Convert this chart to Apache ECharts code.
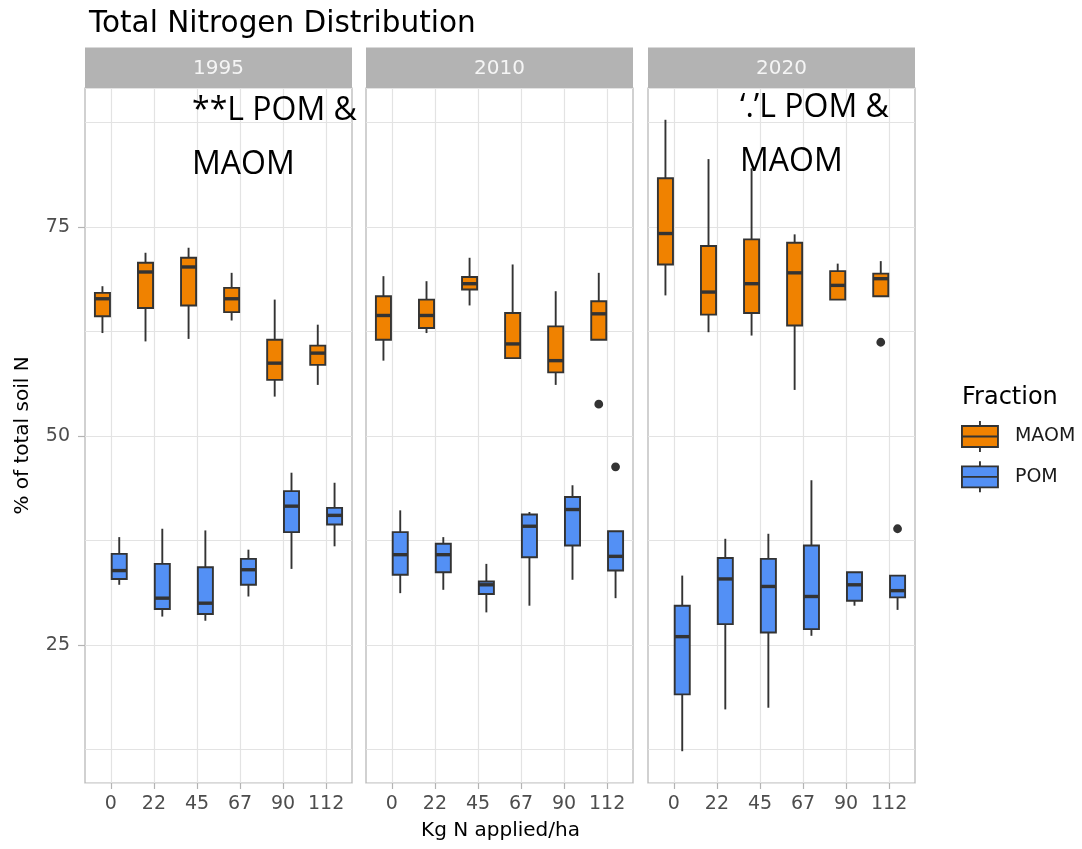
<!DOCTYPE html>
<html>
<head>
<meta charset="utf-8">
<script src="https://cdn.jsdelivr.net/npm/echarts@6/dist/echarts.min.js"></script>
<style>
html,body{margin:0;padding:0;background:#fff;}
#chart{width:1082px;height:849px;}
</style>
</head>
<body>
<div id="chart"></div>
<script>
// ---- data ----
const years = ['1995', '2010', '2020'];
const categories = ['0', '22', '45', '67', '90', '112'];
const fractions = ['MAOM', 'POM'];
// each row: [lower whisker, Q1, median, Q3, upper whisker]
const maom1995 = [
  [62.3, 64.3, 66.4, 67.1, 67.9],
  [61.3, 65.3, 69.6, 70.7, 71.9],
  [61.6, 65.6, 70.2, 71.3, 72.5],
  [63.8, 64.8, 66.4, 67.7, 69.5],
  [54.7, 56.7, 58.7, 61.5, 66.3],
  [56.1, 58.5, 59.9, 60.8, 63.3]
];
const pom1995 = [
  [32.2, 32.9, 33.9, 35.9, 37.9],
  [28.4, 29.3, 30.6, 34.7, 38.9],
  [27.9, 28.7, 30.0, 34.3, 38.7],
  [30.8, 32.2, 34.0, 35.3, 36.4],
  [34.1, 38.5, 41.6, 43.4, 45.6],
  [36.8, 39.4, 40.5, 41.4, 44.4]
];
const maom2010 = [
  [59.0, 61.5, 64.4, 66.7, 69.1],
  [62.3, 62.9, 64.4, 66.3, 68.5],
  [65.6, 67.5, 68.2, 69.0, 71.3],
  [59.3, 59.3, 61.0, 64.7, 70.5],
  [56.1, 57.6, 59.0, 63.1, 67.3],
  [61.5, 61.5, 64.6, 66.1, 69.5]
];
const pom2010 = [
  [31.2, 33.4, 35.8, 38.5, 41.1],
  [31.6, 33.7, 35.8, 37.1, 37.9],
  [28.9, 31.1, 32.2, 32.6, 34.7],
  [29.7, 35.5, 39.2, 40.6, 40.9],
  [32.8, 36.9, 41.2, 42.7, 44.1],
  [30.6, 33.9, 35.6, 38.6, 38.6]
];
const maom2020 = [
  [66.8, 70.5, 74.2, 80.8, 87.8],
  [62.4, 64.5, 67.2, 72.7, 83.1],
  [62.0, 64.7, 68.2, 73.5, 82.0],
  [55.5, 63.2, 69.5, 73.1, 74.1],
  [66.3, 66.3, 68.0, 69.7, 70.6],
  [66.7, 66.7, 68.8, 69.4, 70.9]
];
const pom2020 = [
  [12.3, 19.1, 26.0, 29.7, 33.3],
  [17.3, 27.5, 32.9, 35.4, 37.7],
  [17.5, 26.5, 32.0, 35.3, 38.3],
  [26.1, 26.9, 30.8, 36.9, 44.7],
  [29.7, 30.3, 32.2, 33.7, 33.7],
  [29.2, 30.7, 31.5, 33.3, 33.3]
];
// outliers: [category index, value]
const maomOutliers1995 = [];
const pomOutliers1995 = [];
const maomOutliers2010 = [[5, 53.8]];
const pomOutliers2010 = [[5, 46.3]];
const maomOutliers2020 = [[5, 61.2]];
const pomOutliers2020 = [[5, 38.9]];
const yTickValues = [25, 50, 75];

// ---- layout / style ----
const FONT = '"DejaVu Sans", sans-serif';
const COLORS = { MAOM: '#F08200', POM: '#5390F5' };
const DARK = '#333333';
const PANEL_LEFTS = [85, 366, 648];
const PANEL_W = 267;
const PANEL_TOP = 88;
const PANEL_BOTTOM = 66;
const STRIP_TOP = 47.5;
const Y_MIN = 8.5, Y_MAX = 91.6;

const boxData = [
  { MAOM: maom1995, POM: pom1995, oM: maomOutliers1995, oP: pomOutliers1995 },
  { MAOM: maom2010, POM: pom2010, oM: maomOutliers2010, oP: pomOutliers2010 },
  { MAOM: maom2020, POM: pom2020, oM: maomOutliers2020, oP: pomOutliers2020 }
];

function boxRender(dir, color) {
  return function (params, api) {
    const x = api.value(0);
    const band = api.size([1, 0])[0];
    const off = dir * band * 0.195;
    const w = band * 0.35;
    const pLow = api.coord([x, api.value(1)]);
    const pQ1 = api.coord([x, api.value(2)]);
    const pMed = api.coord([x, api.value(3)]);
    const pQ3 = api.coord([x, api.value(4)]);
    const pHigh = api.coord([x, api.value(5)]);
    const cx = pLow[0] + off;
    const lineStyle = { stroke: DARK, lineWidth: 1.9 };
    return {
      type: 'group',
      children: [
        { type: 'line', shape: { x1: cx, y1: pHigh[1], x2: cx, y2: pQ3[1] }, style: lineStyle },
        { type: 'line', shape: { x1: cx, y1: pQ1[1], x2: cx, y2: pLow[1] }, style: lineStyle },
        { type: 'rect', shape: { x: cx - w / 2, y: pQ3[1], width: w, height: pQ1[1] - pQ3[1] },
          style: { fill: color, stroke: DARK, lineWidth: 1.9 } },
        { type: 'line', shape: { x1: cx - w / 2, y1: pMed[1], x2: cx + w / 2, y2: pMed[1] },
          style: { stroke: DARK, lineWidth: 3.4 } }
      ]
    };
  };
}
function outlierRender(dir) {
  return function (params, api) {
    const band = api.size([1, 0])[0];
    const p = api.coord([api.value(0), api.value(1)]);
    return { type: 'circle', shape: { cx: p[0] + dir * band * 0.195, cy: p[1], r: 4.4 },
      style: { fill: DARK } };
  };
}

const grids = [], xAxes = [], yAxes = [], series = [], graphics = [];
years.forEach(function (yr, p) {
  grids.push({
    left: PANEL_LEFTS[p], width: PANEL_W, top: PANEL_TOP, bottom: PANEL_BOTTOM,
    containLabel: false, outerBoundsMode: 'none',
    show: true, borderColor: '#b3b3b3', borderWidth: 1.2, backgroundColor: '#fff'
  });
  xAxes.push({
    type: 'value', gridIndex: p, min: -0.6, max: 5.6, minInterval: 1, maxInterval: 1,
    axisLine: { show: false },
    axisTick: { show: true, length: 6, lineStyle: { color: '#b3b3b3', width: 1.2 },
      customValues: categories.map(function (c, i) { return i; }) },
    axisLabel: {
      customValues: categories.map(function (c, i) { return i; }),
      margin: 12, fontFamily: FONT, fontSize: 19, color: '#4d4d4d',
      formatter: function (v) {
        const r = Math.round(v);
        if (Math.abs(v - r) > 1e-6 || r < 0 || r >= categories.length) return '';
        return categories[r];
      }
    },
    splitLine: { show: true, lineStyle: { color: '#e3e3e3', width: 1.2 } }
  });
  // data axis with grid lines
  yAxes.push({
    type: 'value', gridIndex: p, min: Y_MIN, max: Y_MAX, minInterval: 12.5, maxInterval: 12.5,
    axisLine: { show: false }, axisTick: { show: false }, axisLabel: { show: false },
    splitLine: { show: true, lineStyle: { color: '#e3e3e3', width: 1.2 } }
  });
  // label axis
  yAxes.push({
    type: 'value', gridIndex: p, min: Y_MIN, max: Y_MAX, show: p === 0,
    position: 'left',
    axisLine: { show: false },
    axisTick: { show: p === 0, length: 7, lineStyle: { color: '#b3b3b3', width: 1.2 }, customValues: yTickValues },
    axisLabel: { show: p === 0, customValues: yTickValues, margin: 15, fontFamily: FONT, fontSize: 19, color: '#4d4d4d',
      formatter: function (v) { return yTickValues.indexOf(v) >= 0 ? String(v) : ''; } },
    splitLine: { show: false },
    name: p === 0 ? '% of total soil N' : '',
    nameLocation: 'middle', nameGap: 52,
    nameTextStyle: { fontFamily: FONT, fontSize: 20, color: '#000' }
  });
  const d = boxData[p];
  fractions.forEach(function (fr, k) {
    const dir = k === 0 ? -1 : 1;
    series.push({
      type: 'custom', name: fr, xAxisIndex: p, yAxisIndex: 2 * p,
      itemStyle: { color: COLORS[fr] },
      renderItem: boxRender(dir, COLORS[fr]),
      encode: { x: 0, y: [1, 2, 3, 4, 5] },
      data: d[fr].map(function (row, i) { return [i].concat(row); }),
      z: 3
    });
    series.push({
      type: 'custom', name: fr + ' outlier', xAxisIndex: p, yAxisIndex: 2 * p,
      renderItem: outlierRender(dir),
      encode: { x: 0, y: 1 },
      data: (k === 0 ? d.oM : d.oP),
      z: 4
    });
  });
  // facet strip
  graphics.push({
    type: 'rect', left: PANEL_LEFTS[p], top: STRIP_TOP,
    shape: { width: PANEL_W, height: PANEL_TOP - STRIP_TOP },
    style: { fill: '#b3b3b3' }
  });
  graphics.push({
    type: 'text', x: PANEL_LEFTS[p] + PANEL_W / 2, y: (STRIP_TOP + PANEL_TOP) / 2 + 1,
    style: { text: yr, fill: '#f5f5f5', font: '20px ' + FONT, align: 'center', verticalAlign: 'middle' }
  });
});

// x-axis title (shared across facets)
graphics.push({ type: 'text', x: PANEL_LEFTS[1] + PANEL_W / 2 + 1, y: 831,
  style: { text: 'Kg N applied/ha', fill: '#000', font: '20px ' + FONT, align: 'center', verticalAlign: 'middle' } });

// annotations
const ANN_FONT = '32px "Open Sans", sans-serif';
graphics.push({ type: 'text', x: 192, y: 111, z: 10,
  style: { text: '**L POM &', fill: '#000', font: ANN_FONT, verticalAlign: 'middle' } });
graphics.push({ type: 'text', x: 192, y: 164.5, z: 10,
  style: { text: 'MAOM', fill: '#000', font: ANN_FONT, verticalAlign: 'middle' } });
graphics.push({ type: 'text', x: 740, y: 108, z: 10,
  style: { text: '\u2018.\u2019L POM &', fill: '#000', font: ANN_FONT, verticalAlign: 'middle' } });
graphics.push({ type: 'text', x: 740, y: 162, z: 10,
  style: { text: 'MAOM', fill: '#000', font: ANN_FONT, verticalAlign: 'middle' } });

const legendIcon = 'path://M0,5L36,5L36,26L0,26Z M0,15.5L36,15.5 M18,0L18,5 M18,26L18,31';

const chart = echarts.init(document.getElementById('chart'), null, { renderer: 'canvas' });
chart.setOption({
  animation: false,
  backgroundColor: '#ffffff',
  title: [
    { text: 'Total Nitrogen Distribution', left: 84, top: 4,
      textStyle: { fontFamily: FONT, fontSize: 29.5, fontWeight: 'normal', color: '#000' } },
    { text: 'Fraction', left: 957, top: 381,
      textStyle: { fontFamily: FONT, fontSize: 24, fontWeight: 'normal', color: '#000' } }
  ],
  legend: {
    orient: 'vertical', left: 961, top: 420, padding: 0, itemGap: 7.5,
    itemWidth: 36, itemHeight: 31,
    textStyle: { fontFamily: FONT, fontSize: 19, color: '#1a1a1a', padding: [0, 0, 0, 12] },
    data: fractions.map(function (fr) {
      return { name: fr, icon: legendIcon,
        itemStyle: { color: COLORS[fr], borderColor: DARK, borderWidth: 1.9 } };
    })
  },
  grid: grids,
  xAxis: xAxes,
  yAxis: yAxes,
  series: series,
  graphic: graphics
});
</script>
</body>
</html>
